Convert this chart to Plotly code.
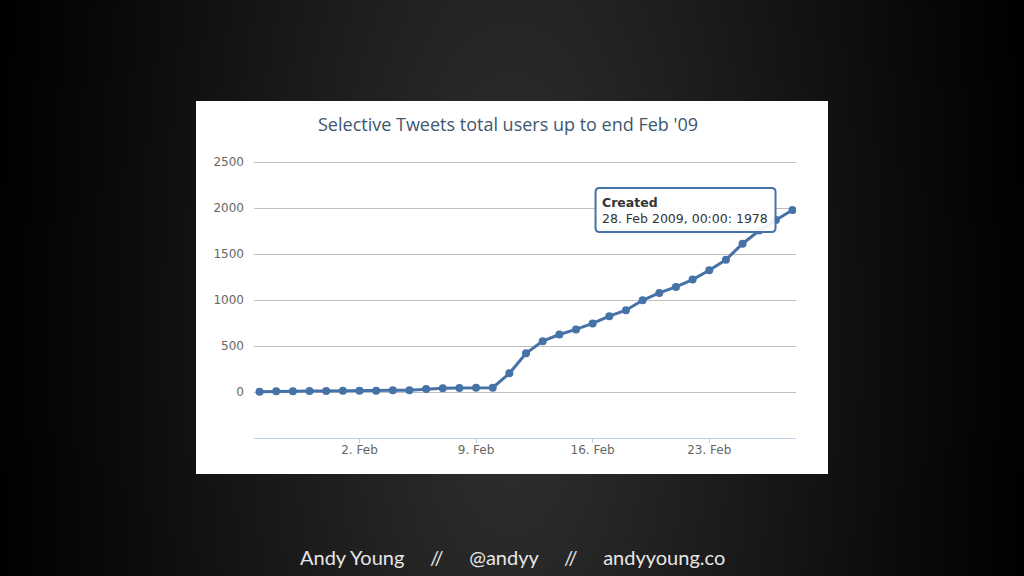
import base64, struct, zlib
import numpy as np
import pandas as pd
import plotly.graph_objects as go

# ---- data ----
dates = pd.date_range("2009-01-27", "2009-02-28", freq="D")
users = [3, 7, 7, 10, 10, 14, 14, 14, 18, 18, 32, 40, 43, 47, 47,
         203, 420, 553, 625, 680, 745, 824, 889, 997, 1077, 1142,
         1222, 1323, 1438, 1612, 1756, 1870, 1978]
y_ticks = [0, 500, 1000, 1500, 2000, 2500]
x_ticks = pd.to_datetime(["2009-02-02", "2009-02-09", "2009-02-16", "2009-02-23"])
x_tick_labels = ["2. Feb", "9. Feb", "16. Feb", "23. Feb"]
title = "Selective Tweets total users up to end Feb '09"
footer = "Andy Young &nbsp;&nbsp;&nbsp;&nbsp;//&nbsp;&nbsp;&nbsp;&nbsp; @andyy &nbsp;&nbsp;&nbsp;&nbsp;//&nbsp;&nbsp;&nbsp;&nbsp; andyyoung.co"
series_name = "Created"

W, H = 1024, 576
L, R, T, B = 254, 796, 160, 438

# ---- background gradient image (PNG) ----
gw, gh = 256, 144
xx, yy = np.meshgrid(np.linspace(0, W, gw), np.linspace(0, H, gh))
d = np.sqrt(((xx - 512) / 540.0) ** 2 + ((yy - 330) / 1400.0) ** 2)
v = np.clip(50 * (1 - d) ** 1.1, 0, 255).astype(np.uint8)
rgb = np.stack([v, v, v], axis=-1)
raw = b"".join(b"\x00" + rgb[i].tobytes() for i in range(gh))
def chunk(t, data):
    c = struct.pack(">I", len(data)) + t + data
    return c + struct.pack(">I", zlib.crc32(t + data) & 0xffffffff)
png = b"\x89PNG\r\n\x1a\n" + chunk(b"IHDR", struct.pack(">IIBBBBB", gw, gh, 8, 2, 0, 0, 0)) \
      + chunk(b"IDAT", zlib.compress(raw)) + chunk(b"IEND", b"")
bg_uri = "data:image/png;base64," + base64.b64encode(png).decode()

color = "#4572A7"

fig = go.Figure()
fig.add_trace(go.Scatter(
    x=dates, y=users, mode="lines+markers", name=series_name,
    line=dict(color=color, width=3),
    marker=dict(color=color, size=8),
    showlegend=False,
))

def px_x(p):
    return (p - L) / (R - L)
def px_y(p):
    return (B - p) / (B - T)

fig.add_layout_image(dict(source=bg_uri, xref="paper", yref="paper",
                          x=px_x(0), y=px_y(0), sizex=px_x(W) - px_x(0), sizey=px_y(0) - px_y(H),
                          xanchor="left", yanchor="top", sizing="stretch", layer="below"))
fig.add_shape(type="rect", xref="paper", yref="paper",
              x0=px_x(196), x1=px_x(828), y0=px_y(474), y1=px_y(101),
              fillcolor="white", line=dict(width=0), layer="below")

fig.add_annotation(xref="paper", yref="paper", x=px_x(508), y=px_y(124),
                   text=title, showarrow=False, xanchor="center", yanchor="middle",
                   font=dict(family="Open Sans, DejaVu Sans", size=18, color="#3E576F"))
fig.add_annotation(xref="paper", yref="paper", x=px_x(512), y=px_y(557),
                   text=footer, showarrow=False, xanchor="center", yanchor="middle",
                   font=dict(family="Lato", size=20, color="#e6e6e6"))

# tooltip (rounded box + text)
fig.add_shape(type="path", xref="x", yref="y", xsizemode="pixel", ysizemode="pixel",
              xanchor=dates[-1], yanchor=users[-1],
              path="M -197 -18 L -197 18 Q -197 22 -193 22 L -21 22 Q -17 22 -17 18 "
                   "L -17 -18 Q -17 -22 -21 -22 L -193 -22 Q -197 -22 -197 -18 Z",
              fillcolor="rgba(255,255,255,0.92)", line=dict(color=color, width=2), layer="above")
fig.add_annotation(x=dates[-1], y=users[-1], xref="x", yref="y",
                   text=f"<b>{series_name}</b><br>{dates[-1].day}. Feb {dates[-1].year}, 00:00: {users[-1]}",
                   showarrow=False, xanchor="left", yanchor="middle", xshift=-193, yshift=0,
                   align="left",
                   font=dict(family="DejaVu Sans", size=12.5, color="#333333"))

fig.update_layout(
    width=W, height=H,
    margin=dict(l=L, r=W - R, t=T, b=H - B, pad=0),
    paper_bgcolor="black", plot_bgcolor="white",
    font=dict(family="DejaVu Sans", size=12, color="#666666"),
    xaxis=dict(range=[dates[0] - pd.Timedelta(hours=8), dates[-1] + pd.Timedelta(hours=5)],
               tickvals=x_ticks, ticktext=x_tick_labels, showgrid=False,
               showline=True, linecolor="#C0D0E0", linewidth=1,
               ticks="outside", ticklen=4, tickcolor="#C0D0E0", zeroline=False,
               ticklabelstandoff=-3),
    yaxis=dict(range=[-500, 2522], tickvals=y_ticks, showgrid=True, gridcolor="#C0C0C0",
               gridwidth=1, zeroline=False, ticks="", ticklabelstandoff=9),
)

fig.write_html("out.html")
